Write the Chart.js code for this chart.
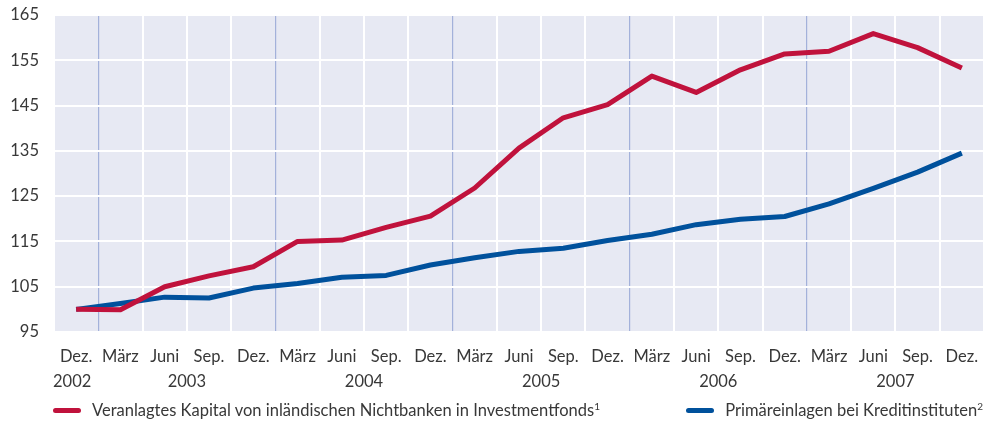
<!DOCTYPE html>
<html>
  <head>
    <meta charset="utf-8">
    <title>Investmentfonds und Primäreinlagen</title>
    <script src="https://cdn.jsdelivr.net/npm/chart.js@4.4.0/dist/chart.umd.min.js"></script>
    <style>
      body { margin: 0; background: #fff; }
      #wrap { position: relative; width: 987px; height: 421px; }
      #legend {
        position: absolute; left: 53px; right: 4px; top: 400px;
        display: flex; justify-content: space-between;
        font-family: Lato, sans-serif; font-size: 16.5px; color: #383838;
      }
      #legend .item { display: flex; align-items: center; }
      #legend .swatch { width: 28px; height: 5px; border-radius: 3px; margin-right: 11px; }
      #legend sup { font-size: 10px; vertical-align: 6px; line-height: 0; }
    </style>
  </head>
  <body>
    <div id="wrap">
      <canvas id="myChart" width="987" height="421"></canvas>
      <div id="legend"></div>
    </div>
    <script>
      // quarter-end months, Dez. 2002 to Dez. 2007
      const months = ['Dez.',
        'März', 'Juni', 'Sep.', 'Dez.',
        'März', 'Juni', 'Sep.', 'Dez.',
        'März', 'Juni', 'Sep.', 'Dez.',
        'März', 'Juni', 'Sep.', 'Dez.',
        'März', 'Juni', 'Sep.', 'Dez.'];
      const years = ['2002', '2003', '2004', '2005', '2006', '2007'];

      // index, Dez. 2002 = 100
      const fondsKapital = [100, 99.9, 105, 107.4, 109.4, 115, 115.3, 118.1, 120.6, 126.8, 135.6,
        142.3, 145.2, 151.5, 147.9, 152.9, 156.4, 157, 160.9, 157.8, 153.3];
      const primaereinlagen = [100, 101.3, 102.7, 102.5, 104.7, 105.7, 107.1, 107.5, 109.8, 111.4, 112.8,
        113.5, 115.2, 116.6, 118.7, 119.9, 120.5, 123.3, 126.7, 130.3, 134.5];

      const seriesNames = ['Veranlagtes Kapital von inländischen Nichtbanken in Investmentfonds',
        'Primäreinlagen bei Kreditinstituten'];
      const red = '#c0123c';
      const blue = '#00519c';
      const textColor = '#383838';
      const fontFamily = 'Lato, sans-serif';
      const fontSize = 16.5;

      const plotBackground = {
        id: 'plotBackground',
        beforeDraw(chart) {
          const { ctx, chartArea: a } = chart;
          ctx.save();
          ctx.fillStyle = '#e7e9f3';
          ctx.fillRect(a.left, a.top, a.right - a.left, a.bottom - a.top);
          ctx.restore();
        }
      };

      // year captions under the month labels
      const yearCaptions = {
        id: 'yearCaptions',
        afterDraw(chart) {
          const { ctx, scales: { x } } = chart;
          ctx.save();
          ctx.font = fontSize + 'px ' + fontFamily;
          ctx.fillStyle = textColor;
          ctx.textAlign = 'center';
          ctx.textBaseline = 'middle';
          years.forEach((yr, k) => {
            let px;
            if (k === 0) {
              px = x.getPixelForTick(0) - 4;
            } else {
              const first = 1 + (k - 1) * 4;
              px = (x.getPixelForTick(first + 1) + x.getPixelForTick(first + 2)) / 2;
            }
            ctx.fillText(yr, px, 382);
          });
          ctx.restore();
        }
      };

      const ctx = document.getElementById('myChart').getContext('2d');
      const myChart = new Chart(ctx, {
        type: 'line',
        data: {
          labels: months,
          datasets: [{
            label: seriesNames[0],
            data: fondsKapital,
            borderColor: red,
            borderWidth: 5,
            pointRadius: 0,
            borderJoinStyle: 'round',
            fill: false
          }, {
            label: seriesNames[1],
            data: primaereinlagen,
            borderColor: blue,
            borderWidth: 5,
            pointRadius: 0,
            borderJoinStyle: 'round',
            fill: false
          }]
        },
        options: {
          responsive: false,
          animation: false,
          layout: { padding: { top: 15, right: 3, bottom: 0, left: 0 } },
          plugins: {
            legend: { display: false },
            tooltip: { enabled: false }
          },
          scales: {
            x: {
              offset: true,
              grid: {
                offset: true,
                drawTicks: false,
                lineWidth: ctx => (ctx.index > 0 && months[ctx.index] === 'März') ? 1.2 : 2,
                color: ctx => (ctx.index > 0 && months[ctx.index] === 'März') ? '#a3b1da' : '#ffffff'
              },
              border: { display: false },
              ticks: {
                color: textColor,
                font: { family: fontFamily, size: fontSize },
                padding: 15,
                maxRotation: 0,
                autoSkip: false
              },
              afterFit(scale) {
                scale.height = 89;
                scale.paddingLeft = 0;
                scale.paddingRight = 0;
              }
            },
            y: {
              min: 95,
              max: 165,
              grid: { color: '#ffffff', lineWidth: 2, drawTicks: false },
              border: { display: false },
              ticks: {
                stepSize: 10,
                color: textColor,
                font: { family: fontFamily, size: fontSize },
                padding: 15
              },
              afterFit(scale) {
                scale.width = 54;
                scale.paddingTop = 0;
                scale.paddingBottom = 0;
              }
            }
          }
        },
        plugins: [plotBackground, yearCaptions]
      });

      // legend row below the chart
      const legend = document.getElementById('legend');
      [[seriesNames[0], red, '1'], [seriesNames[1], blue, '2']].forEach(([name, color, note]) => {
        const item = document.createElement('div');
        item.className = 'item';
        item.innerHTML = '<span class="swatch" style="background:' + color + '"></span>' +
          '<span>' + name + '<sup>' + note + '</sup></span>';
        legend.appendChild(item);
      });
    </script>
  </body>
</html>
